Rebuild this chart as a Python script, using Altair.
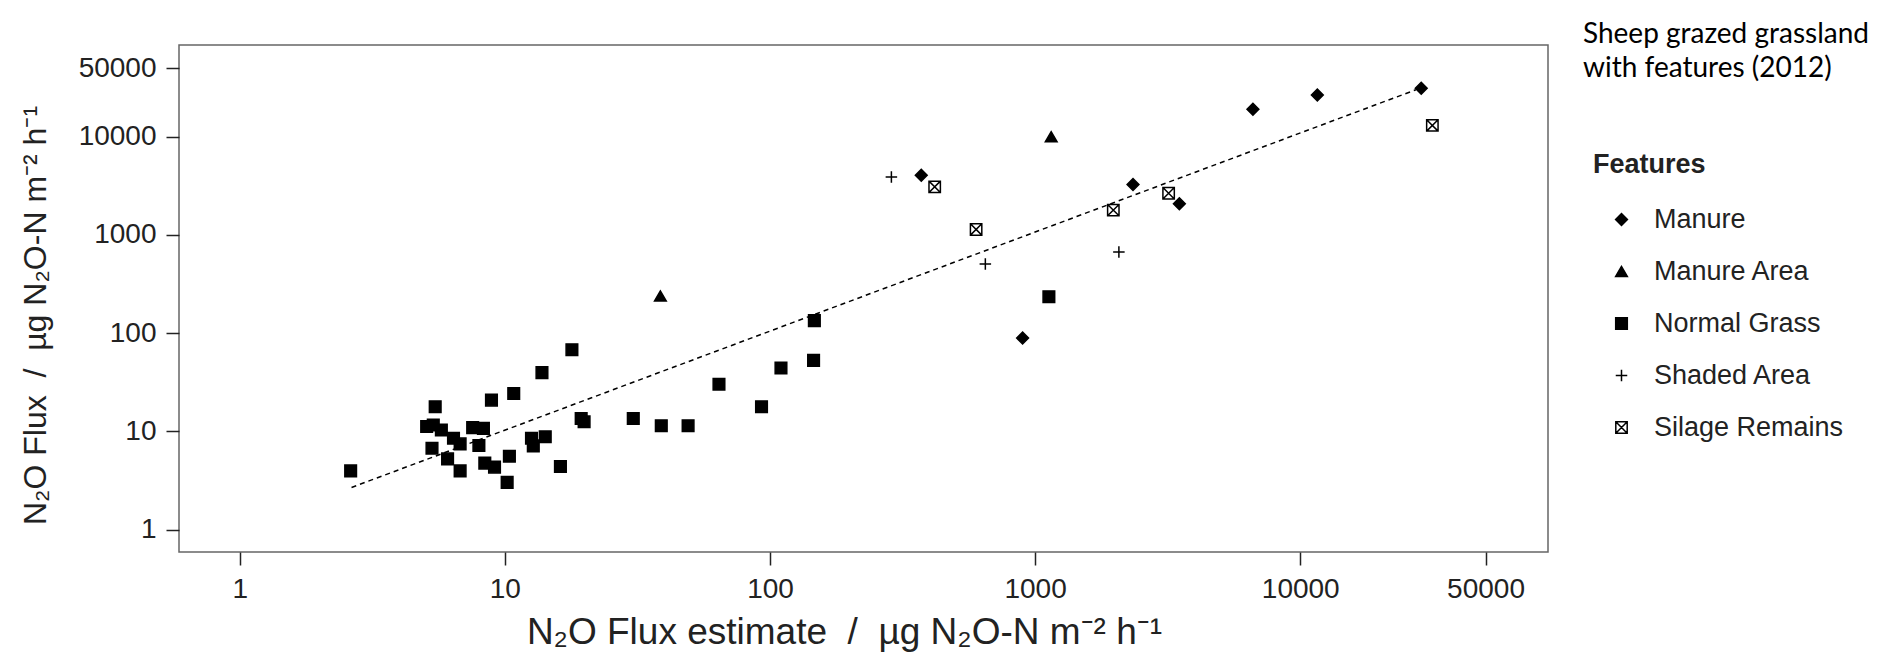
import altair as alt
import pandas as pd

features = ["Manure", "Manure Area", "Normal Grass", "Shaded Area", "Silage Remains"]

manure_x = [372, 897, 2340, 3500, 6630, 11600, 28600]
manure_y = [4050, 89, 3260, 2080, 19100, 26600, 31200]

manure_area_x = [38.6, 1150]
manure_area_y = [239, 10000]

grass_x = [2.62, 5.46, 5.07, 5.37, 5.76, 6.4, 6.78, 5.31, 6.08, 6.78, 7.56, 8.3,
           7.98, 8.4, 9.14, 8.9, 10.8, 10.4, 10.2, 12.6, 12.8, 14.2, 13.8, 16.2,
           17.9, 19.4, 19.9, 30.5, 38.9, 49.1, 64.2, 92.9, 110, 146, 147, 1127]
grass_y = [3.96, 17.8, 11.2, 11.6, 10.3, 8.5, 7.44, 6.73, 5.24, 3.96, 10.9, 10.7,
           7.16, 4.74, 4.32, 20.8, 24.3, 5.58, 3.02, 8.5, 7.1, 8.8, 39.6, 4.38,
           67.8, 13.5, 12.5, 13.5, 11.4, 11.4, 30.2, 17.8, 44.2, 52.8, 134, 235]

shaded_x = [287, 649, 2070]
shaded_y = [3900, 505, 670]

silage_x = [418, 599, 1972, 3188, 31500]
silage_y = [3090, 1138, 1790, 2660, 13050]

trend_x = [2.64, 27300]
trend_y = [2.68, 30100]

tick_values = [1, 10, 100, 1000, 10000, 50000]

title_lines = ["Sheep grazed grassland", "with features (2012)"]

rows = []
for name, xs, ys in [("Manure", manure_x, manure_y),
                     ("Manure Area", manure_area_x, manure_area_y),
                     ("Normal Grass", grass_x, grass_y),
                     ("Shaded Area", shaded_x, shaded_y),
                     ("Silage Remains", silage_x, silage_y)]:
    for a, b in zip(xs, ys):
        rows.append({"feature": name, "estimate": a, "flux": b})
df = pd.DataFrame(rows)
line_df = pd.DataFrame({"estimate": trend_x, "flux": trend_y})
title_df = pd.DataFrame({"label": ["\n".join(title_lines)]})

PLUS = "M-1,0H1M0,-1V1"
BOXX = "M-1,-1H1V1H-1Z M-1,-1L1,1 M-1,1L1,-1"

xscale = alt.Scale(type="log", domain=[0.59, 86000], nice=False)
yscale = alt.Scale(type="log", domain=[0.59, 86000], nice=False)

xtitle = "N\u2082O Flux estimate \u00a0/\u00a0 \u00b5g N\u2082O-N m\u207b\u00b2 h\u207b\u00b9"
ytitle = "N\u2082O Flux \u00a0/\u00a0 \u00b5g N\u2082O-N m\u207b\u00b2 h\u207b\u00b9"

leg = alt.Legend(title="Features", labelLimit=400)

trend = alt.Chart(line_df).mark_line(color="black", strokeDash=[5, 4], strokeWidth=1.5).encode(
    x=alt.X("estimate:Q", scale=xscale),
    y=alt.Y("flux:Q", scale=yscale),
)

points = alt.Chart(df).mark_point(filled=True, strokeWidth=1.5, opacity=1).encode(
    x=alt.X("estimate:Q", scale=xscale,
            axis=alt.Axis(values=tick_values, format="d", title=xtitle, titleFontSize=37,
                          titleX=665, titleY=80, titleAlign="center", titleBaseline="middle")),
    y=alt.Y("flux:Q", scale=yscale,
            axis=alt.Axis(values=tick_values, format="d", title=ytitle, titleFontSize=32,
                          titleX=-144, titleY=270, titleAngle=270,
                          titleAlign="center", titleBaseline="middle")),
    shape=alt.Shape("feature:N", scale=alt.Scale(domain=features,
                    range=["diamond", "triangle-up", "square", PLUS, BOXX]), legend=leg),
    fill=alt.Fill("feature:N", scale=alt.Scale(domain=features,
                  range=["black", "black", "black", "white", "white"]), legend=leg),
    stroke=alt.Stroke("feature:N", scale=alt.Scale(domain=features,
                      range=["black", "black", "black", "black", "black"]), legend=leg),
    size=alt.Size("feature:N", scale=alt.Scale(domain=features,
                  range=[140, 130, 150, 480, 190]), legend=leg),
)

title_text = alt.Chart(title_df).mark_text(
    align="left", baseline="alphabetic", font="Lato", fontSize=28,
    color="black", lineBreak="\n", lineHeight=34,
).encode(
    x=alt.value(1404), y=alt.value(-2), text="label:N",
)

chart = alt.layer(trend, points, title_text).properties(
    width=1369,
    height=507,
    autosize=alt.AutoSizeParams(type="none"),
    padding={"left": 171, "top": 37, "right": 345, "bottom": 104},
).configure_view(
    stroke="#666", strokeWidth=1.5
).configure_axis(
    grid=False, domain=False, tickColor="#222", tickWidth=1.5, tickSize=13,
    labelFont="Liberation Sans", labelFontSize=28, labelColor="#222", labelPadding=10,
    titleFont="Liberation Sans", titleFontWeight="normal", titleColor="#222",
).configure_legend(
    orient="none", legendX=1414, legendY=107, padding=0,
    titleFont="Liberation Sans", titleFontSize=27, titleFontWeight="bold", titleColor="#222",
    titlePadding=27,
    labelFont="Liberation Sans", labelFontSize=27, labelColor="#222",
    symbolStrokeColor="black", symbolStrokeWidth=1.5,
    rowPadding=24, symbolOffset=15, labelOffset=19,
)

chart.save("out.html", embed_options={"renderer": "svg", "actions": False})
